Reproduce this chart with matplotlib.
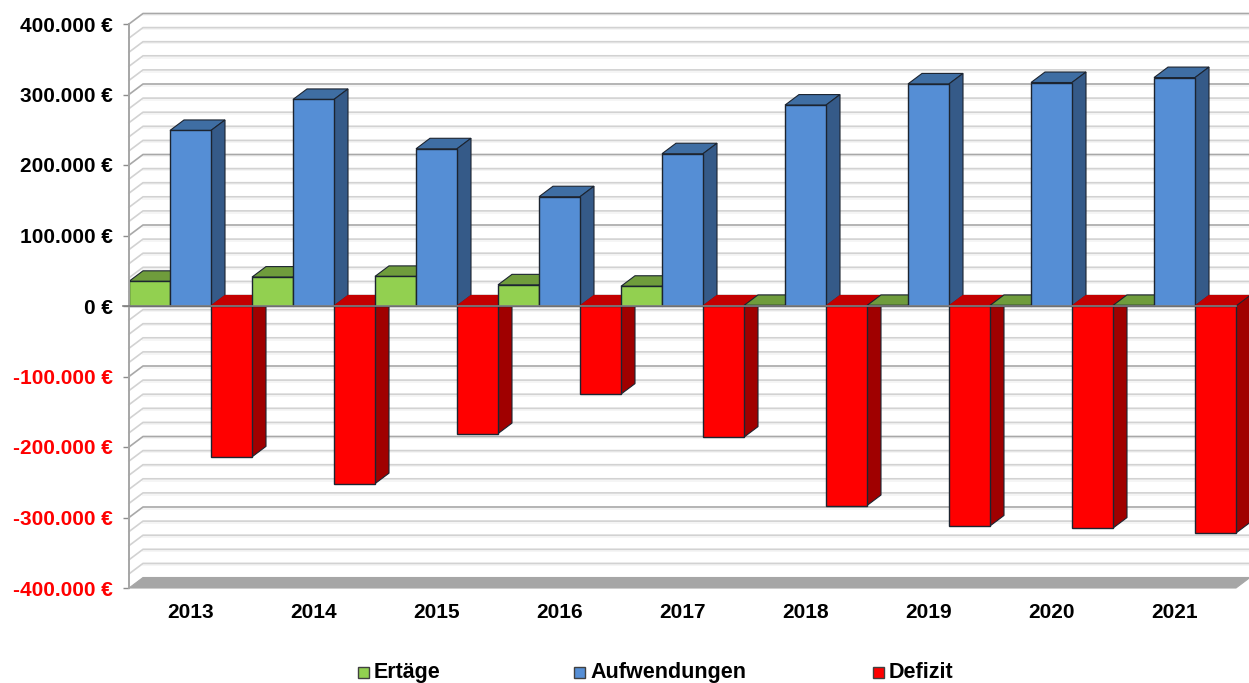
import matplotlib
matplotlib.use("Agg")
import matplotlib.pyplot as plt
import numpy as np
from matplotlib.patches import Polygon, Rectangle

plt.rcParams["font.family"] = ["Liberation Sans", "DejaVu Sans"]
plt.rcParams["font.weight"] = "bold"

# Values
years = [2013, 2014, 2015, 2016, 2017, 2018, 2019, 2020, 2021]
ertraege = [35000, 41000, 42000, 30000, 28000, 800, 800, 800, 800]
aufwendungen = [249000, 293000, 223000, 155000, 216000, 285000, 315000, 317000, 324000]
defizit = [-214000, -252000, -181000, -125000, -186000, -283000, -312000, -315000, -322000]
y_labels = ["-400.000 €", "-300.000 €", "-200.000 €", "-100.000 €", "0 €",
            "100.000 €", "200.000 €", "300.000 €", "400.000 €"]
legend_names = ["Ertäge", "Aufwendungen", "Defizit"]

W, H = 1249, 683
fig = plt.figure(figsize=(W / 100, H / 100), dpi=100)
ax = fig.add_axes([129 / W, (H - 588) / H, 1107 / W, 564 / H])
ax.set_xlim(0, 9)
ax.set_ylim(-400000, 400000)

# 3D look: how far the back wall is shifted, in data units
dx = 14 / 123
dy = 10.5 / 70.5 * 100000
bar_w = 1 / 3
edge = "#1c2430"

# Back wall and side wall grid
for v in np.arange(-380000, 400001, 20000):
    major = v % 100000 == 0
    col = "#a8a8a8" if major else "#d2d2d2"
    ax.plot([dx, 9 + dx], [v + dy - 2500, v + dy - 2500], color="#f3f3f3", lw=1.2, zorder=1, clip_on=False)
    ax.plot([0, dx, 9 + dx], [v, v + dy, v + dy], color=col, lw=1.2, zorder=1.1, clip_on=False)

# Floor
floor = [(0, -400000), (dx, -400000 + dy), (9 + dx, -400000 + dy), (9, -400000)]
ax.add_patch(Polygon(floor, closed=True, fc="#a6a6a6", ec="#a6a6a6", lw=0.8, zorder=1.5, clip_on=False))


def draw_bar(x, val, front, top, side, z, top_edge=edge):
    # front face goes through the axes scale, top and side follow from it
    ax.bar(x, val, width=bar_w, align="edge", color=front, edgecolor=edge, lw=1.0, zorder=z + 0.01, clip_on=False)
    t = max(val, 0)
    ax.add_patch(Polygon([(x, t), (x + dx, t + dy), (x + bar_w + dx, t + dy), (x + bar_w, t)],
                         closed=True, fc=top, ec=top_edge, lw=0.8, zorder=z, clip_on=False))
    b = min(val, 0)
    ax.add_patch(Polygon([(x + bar_w, t), (x + bar_w + dx, t + dy), (x + bar_w + dx, b + dy), (x + bar_w, b)],
                         closed=True, fc=side, ec=edge, lw=0.8, zorder=z, clip_on=False))


for i in range(len(years)):
    z = 2 + i
    draw_bar(i, ertraege[i], "#92d050", "#6f9c3c", "#5f8a32", z)
    draw_bar(i + bar_w, aufwendungen[i], "#558ed5", "#3f6ea3", "#355a88", z + 0.1)
    draw_bar(i + 2 * bar_w, defizit[i], "#ff0000", "#c40000", "#a00000", z + 0.2, top_edge="#c40000")

# Zero line in front
ax.plot([-6 / 123, 9], [0, 0], color="#808080", lw=1.2, zorder=30, clip_on=False)

for s in ["top", "right", "bottom"]:
    ax.spines[s].set_visible(False)
ax.spines["left"].set_color("#a6a6a6")
ax.spines["left"].set_linewidth(1.4)
ax.spines["left"].set_zorder(20)

ax.set_yticks(np.arange(-400000, 400001, 100000))
ax.set_yticklabels(y_labels, fontsize=15, fontweight="bold")
for lab, v in zip(ax.get_yticklabels(), ax.get_yticks()):
    lab.set_color("#ff0000" if v < 0 else "#000000")
ax.tick_params(axis="y", length=4.3, width=1.0, color="#8c8c8c", pad=7.5)

ax.set_xticks(np.arange(len(years)) + 0.5)
ax.set_xticklabels(years, fontsize=15, fontweight="bold")
ax.tick_params(axis="x", length=0, pad=10.5)

# Legend placed by hand so that the three labels share one baseline
for name, col, sq_x in zip(legend_names, ["#92d050", "#558ed5", "#ff0000"], [358, 574, 873]):
    fig.add_artist(Rectangle((sq_x / W, (H - 678) / H), 11 / W, 11 / H, transform=fig.transFigure,
                             fc=col, ec="#404040", lw=1.0))
    fig.text((sq_x + 16) / W, (H - 678) / H, name, fontsize=15.5, fontweight="bold", va="baseline")

fig.savefig("out.png", dpi=100)
